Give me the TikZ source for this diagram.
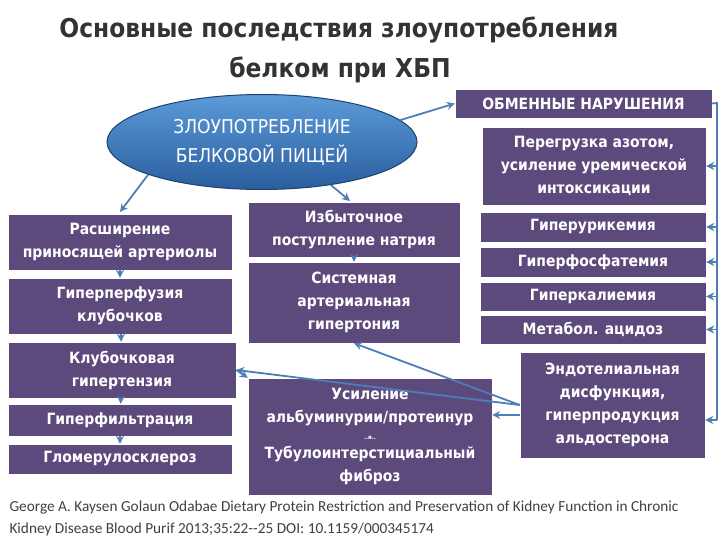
\documentclass[tikz,border=0pt]{standalone}
\usepackage{fontspec}
\setmainfont{DejaVu Sans Condensed}
\newfontfamily\citefont{Carlito}
\usetikzlibrary{shapes.geometric,arrows.meta}
\definecolor{boxpurple}{HTML}{5D4A7C}
\definecolor{linkblue}{HTML}{4F7DB8}
\definecolor{ovaltop}{HTML}{5C9AD8}
\definecolor{ovalbottom}{HTML}{2A5E9E}
\tikzset{
  effect/.style={fill=boxpurple, draw=white, text=white, font=\bfseries\fontsize{15.5}{23}\selectfont, align=center, inner sep=0pt},
  link/.style={linkblue, line width=1.8pt, -{Stealth[length=8pt,width=8pt,open]}},
}
\newcommand{\effectbox}[6]{% name, x1, y1, x2, y2, text
  \node[effect, minimum width=#4-#2, minimum height=#5-#3] (#1) at ({(#2+#4)/2},{(#3+#5)/2}) {#6};}
\begin{document}
\begin{tikzpicture}[x=1pt, y=-1pt]
\useasboundingbox (0,0) rectangle (720,540);
% title
\node[font=\bfseries\fontsize{26}{30}\selectfont, text=black!80] (title1) at (339,30) {Основные последствия злоупотребления};
\node[font=\bfseries\fontsize{26}{30}\selectfont, text=black!80] (title2) at (340,70) {белком при ХБП};
% cause
\node[ellipse, minimum width=310, minimum height=95, draw=ovalbottom!70!black, line width=1pt,
  top color=ovaltop, bottom color=ovalbottom,
  text=white, align=center, font=\fontsize{19}{29}\selectfont] (abuse) at (262,142) {ЗЛОУПОТРЕБЛЕНИЕ\\БЕЛКОВОЙ ПИЩЕЙ};
% right column
\effectbox{metab}{455}{89}{712}{118}{ОБМЕННЫЕ НАРУШЕНИЯ}
\effectbox{azot}{482}{127}{706}{205}{Перегрузка азотом,\\усиление уремической\\интоксикации}
\effectbox{uric}{480}{212}{706}{242}{Гиперурикемия}
\effectbox{phos}{480}{247}{706}{277}{Гиперфосфатемия}
\effectbox{kal}{480}{282}{706}{311}{Гиперкалиемия}
\effectbox{acid}{480}{315}{706}{344}{Метабол. ацидоз}
\effectbox{endo}{520}{352}{705}{458}{Эндотелиальная\\дисфункция,\\гиперпродукция\\альдостерона}
% left column
\effectbox{dilat}{8}{214}{232}{270}{Расширение\\приносящей артериолы}
\effectbox{perf}{8}{278}{232}{334}{Гиперперфузия\\клубочков}
\effectbox{glhyp}{8}{342}{236}{398}{Клубочковая\\гипертензия}
\effectbox{filt}{8}{404}{232}{436}{Гиперфильтрация}
\effectbox{scler}{8}{444}{232}{474}{Гломерулосклероз}
% middle column
\effectbox{sodium}{248}{202}{460}{257}{Избыточное\\поступление натрия}
\effectbox{hyper}{248}{262}{460}{343}{Системная\\артериальная\\гипертония}
\effectbox{prot}{248}{378}{492}{495}{Усиление\\альбуминурии/протеинур\\[-6pt]{\fontsize{6}{6}\selectfont ..и..}\\[-4pt]Тубулоинтерстициальный\\фиброз}
% connectors
\draw[link] (abuse.9) -- (metab.west);
\draw[link] (abuse.196) -- (120,212);
\draw[link] (abuse.328) -- (350,201);
\draw[link] (dilat) -- (perf);
\draw[link] (perf) -- (glhyp);
\draw[link] (glhyp) -- (filt);
\draw[link] (filt) -- (scler);
\draw[link] (sodium) -- (hyper);
\draw[link] (endo.west) -- (hyper.south);
\draw[link] (endo.west) -- (glhyp.east);
\draw[link] (glhyp.east) -- (prot.north west);
\draw[link] (endo.west |- prot.170) -- (prot.east |- prot.170);
\coordinate (rail top) at (717,103);
\coordinate (rail bottom) at (717,420);
\draw[linkblue, line width=1.8pt] (metab.east) -- (rail top) -- (rail bottom);
\foreach \b in {azot,uric,phos,kal,acid}
  \draw[link] (rail top |- \b.east) -- (\b.east);
\draw[link] (rail bottom) -- (endo.east |- rail bottom);
% source
\node[anchor=north west, align=left, text=black!75, font=\citefont\fontsize{15.3}{22}\selectfont] (source) at (6,497)
  {George A. Kaysen Golaun Odabae Dietary Protein Restriction and Preservation of Kidney Function in Chronic\\Kidney Disease Blood Purif 2013;35:22--25 DOI: 10.1159/000345174};
\end{tikzpicture}
\end{document}
